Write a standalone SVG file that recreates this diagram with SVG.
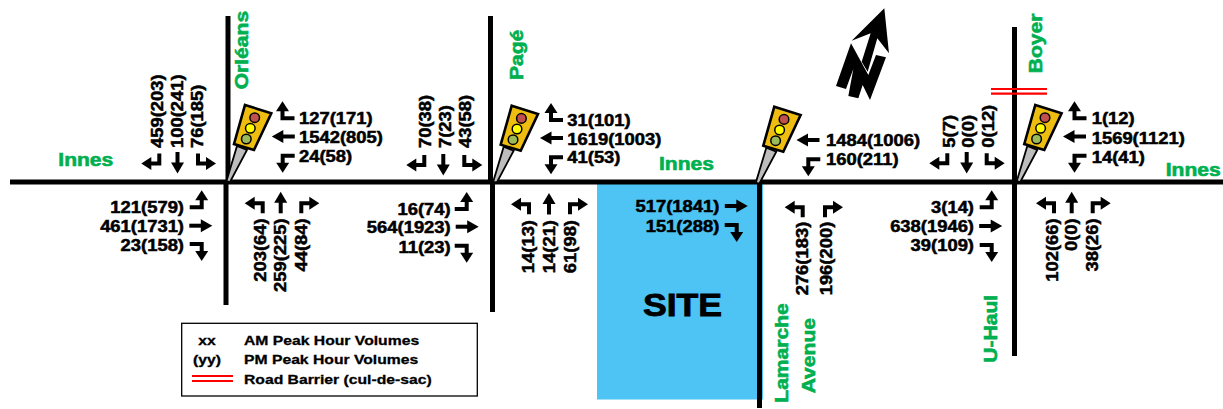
<svg xmlns="http://www.w3.org/2000/svg" xmlns:xlink="http://www.w3.org/1999/xlink" width="1223" height="409" viewBox="0 0 1223 409">
<style>
text{font-family:"Liberation Sans",Arial,sans-serif;font-weight:700}
.n{font-size:16px;fill:#000;stroke:#000;stroke-width:.5}
.g{font-size:18px;fill:#00b050;stroke:#00b050;stroke-width:.6}
.l{font-size:13px;fill:#000;stroke:#000;stroke-width:.3}
.e{text-anchor:end}
.m{text-anchor:middle}
.road{stroke:#000;stroke-width:5;fill:none}
.st{fill:none;stroke:#000;stroke-width:4}
.bar{stroke:#f00;stroke-width:2.200;fill:none}
</style>
<defs>
<g id="h-tl"><path class="st" d="M0-10V0H-9"/><path d="M-8-6.500V6.500L-18 0Z"/></g>
<g id="h-tr"><path class="st" d="M0-10V0H9"/><path d="M8-6.500V6.500L18 0Z"/></g>
<g id="h-bl"><path class="st" d="M0 10V0H-9"/><path d="M-8-6.500V6.500L-18 0Z"/></g>
<g id="h-br"><path class="st" d="M0 10V0H9"/><path d="M8-6.500V6.500L18 0Z"/></g>
<g id="h-ru"><path class="st" d="M12 0H0V-8"/><path d="M-6.500-7H6.500L0-17Z"/></g>
<g id="h-rd"><path class="st" d="M12 0H0V8"/><path d="M-6.500 7H6.500L0 17Z"/></g>
<g id="h-lu"><path class="st" d="M-12 0H0V-8"/><path d="M-6.500-7H6.500L0-17Z"/></g>
<g id="h-ld"><path class="st" d="M-12 0H0V8"/><path d="M-6.500 7H6.500L0 17Z"/></g>
<g id="t-u"><path class="st" d="M0 10.500V-1"/><path d="M-6.500 0H6.500L0-11Z"/></g>
<g id="t-d"><path class="st" d="M0-10.500V1"/><path d="M-6.500 0H6.500L0 11Z"/></g>
<g id="t-l"><path class="st" d="M11.500 0H-1"/><path d="M0-6.500V6.500L-11.500 0Z"/></g>
<g id="t-r"><path class="st" d="M-11.500 0H1"/><path d="M0-6.500V6.500L11.500 0Z"/></g>
<g id="signal">
<path d="M237 146L247 150L230 182L226.500 181Z" fill="#bdbdbd" stroke="#000" stroke-width="1.800"/>
<path d="M245 105L271.300 113.300L254 150L234 144Z" fill="#eebd0f" stroke="#000" stroke-width="2.600"/>
<circle cx="254.700" cy="117.700" r="4.800" fill="#c0504d" stroke="#000" stroke-width="1.500"/>
<circle cx="250.300" cy="128.300" r="4.800" fill="#ffff00" stroke="#000" stroke-width="1.500"/>
<circle cx="246.300" cy="139" r="4.800" fill="#9bbb59" stroke="#000" stroke-width="1.500"/>
</g>
</defs>
<rect width="1223" height="409" fill="#fff"/>
<g id="site">
<rect x="597" y="184" width="166" height="215.500" fill="#4dc4f4"/>
<text class="m" transform="translate(682.500 315.700) scale(1.15 1)" style="font-size:31px;stroke:#000;stroke-width:.8">SITE</text>
<text class="n e" transform="translate(719.300 212.300) scale(1.15 1)">517(1841)</text>
<text class="n e" transform="translate(719.300 232.300) scale(1.15 1)">151(288)</text>
<use href="#t-r" x="736.300" y="206"/>
<use href="#h-ld" x="736.700" y="225"/>
</g>
<g id="connectors">
<path class="road" d="M10 182H1223"/>
<path class="road" d="M228 16V182M226 182V305"/>
<path class="road" d="M490.500 16V182M492.500 182V312"/>
<path class="road" d="M759.500 182V408"/>
<path class="road" d="M1014.500 27V356"/>
<path class="bar" d="M991 89H1047M991 93.700H1047"/>
</g>
<g id="north-arrow" transform="translate(790 0) scale(.3333)">
<path d="M183 130L138 258L168 267L190 207L175 288L205 295L218 255L240 300L288 172L258 165L235 225Z"/>
<path d="M283 25L185 122L242 100L215 185L233 215L262 115L297 160Z"/>
</g>
<g id="intersection-orleans">
<use href="#signal"/>
<text class="g" transform="translate(247.700 89.300) rotate(-90) scale(1.17 1)">Orléans</text>
<use href="#h-tl" x="159.300" y="163.500"/><use href="#t-d" x="177.500" y="162.500"/><use href="#h-tr" x="198" y="163.500"/>
<text class="n" transform="translate(163 148) rotate(-90) scale(1.15 1)">459(203)</text>
<text class="n" transform="translate(183 148) rotate(-90) scale(1.15 1)">100(241)</text>
<text class="n" transform="translate(203 148) rotate(-90) scale(1.15 1)">76(185)</text>
<use href="#h-ru" x="282.500" y="118.300"/><use href="#t-l" x="283.300" y="136.500"/><use href="#h-rd" x="282.700" y="155.700"/>
<text class="n" transform="translate(299 124) scale(1.15 1)">127(171)</text>
<text class="n" transform="translate(299 143) scale(1.15 1)">1542(805)</text>
<text class="n" transform="translate(299 162) scale(1.15 1)">24(58)</text>
<use href="#h-lu" x="201.700" y="207.300"/><use href="#t-r" x="200.800" y="225.700"/><use href="#h-ld" x="201.700" y="244"/>
<text class="n e" transform="translate(184 213) scale(1.15 1)">121(579)</text>
<text class="n e" transform="translate(184 232) scale(1.15 1)">461(1731)</text>
<text class="n e" transform="translate(184 251) scale(1.15 1)">23(158)</text>
<use href="#h-bl" x="262.700" y="203.300"/><use href="#t-u" x="280.700" y="202.800"/><use href="#h-br" x="301.300" y="203.300"/>
<text class="n e" transform="translate(265.700 218.300) rotate(-90) scale(1.15 1)">203(64)</text>
<text class="n e" transform="translate(285.700 218.300) rotate(-90) scale(1.15 1)">259(225)</text>
<text class="n e" transform="translate(306.700 218.300) rotate(-90) scale(1.15 1)">44(84)</text>
</g>
<g id="intersection-page">
<use href="#signal" x="266.700" y=".7"/>
<text class="g" transform="translate(523.300 80) rotate(-90) scale(1.17 1)">Pagé</text>
<use href="#h-tl" x="424.300" y="165"/><use href="#t-d" x="443.300" y="164.500"/><use href="#h-tr" x="464.300" y="165"/>
<text class="n" transform="translate(431 148) rotate(-90) scale(1.15 1)">70(38)</text>
<text class="n" transform="translate(451 148) rotate(-90) scale(1.15 1)">7(23)</text>
<text class="n" transform="translate(471 148) rotate(-90) scale(1.15 1)">43(58)</text>
<use href="#h-ru" x="551" y="120"/><use href="#t-l" x="551.500" y="138"/><use href="#h-rd" x="551" y="157.300"/>
<text class="n" transform="translate(567.300 126) scale(1.15 1)">31(101)</text>
<text class="n" transform="translate(567.300 144.700) scale(1.15 1)">1619(1003)</text>
<text class="n" transform="translate(567.300 163.300) scale(1.15 1)">41(53)</text>
<text class="g" transform="translate(659 170) scale(1.17 1)">Innes</text>
<use href="#h-lu" x="466.700" y="209"/><use href="#t-r" x="467.200" y="226.700"/><use href="#h-ld" x="466.700" y="245.700"/>
<text class="n e" transform="translate(450.700 215) scale(1.15 1)">16(74)</text>
<text class="n e" transform="translate(450.700 233.300) scale(1.15 1)">564(1923)</text>
<text class="n e" transform="translate(450.700 253.300) scale(1.15 1)">11(23)</text>
<use href="#h-bl" x="529" y="204.300"/><use href="#t-u" x="549" y="204"/><use href="#h-br" x="570" y="204.300"/>
<text class="n e" transform="translate(534.300 220) rotate(-90) scale(1.15 1)">14(13)</text>
<text class="n e" transform="translate(555 220) rotate(-90) scale(1.15 1)">14(21)</text>
<text class="n e" transform="translate(576 220) rotate(-90) scale(1.15 1)">61(98)</text>
</g>
<g id="intersection-lamarche">
<use href="#signal" x="529.300" y="1.700"/>
<use href="#t-l" x="808" y="140"/><use href="#h-rd" x="808.300" y="159.300"/>
<text class="n" transform="translate(826 145.700) scale(1.15 1)">1484(1006)</text>
<text class="n" transform="translate(826 165) scale(1.15 1)">160(211)</text>
<use href="#h-bl" x="802.700" y="207.300"/><use href="#h-br" x="825" y="207.300"/>
<text class="n e" transform="translate(808.300 221.700) rotate(-90) scale(1.15 1)">276(183)</text>
<text class="n e" transform="translate(831.700 221.700) rotate(-90) scale(1.15 1)">196(200)</text>
<text class="g" transform="translate(787.700 402.700) rotate(-90) scale(1.17 1)">Lamarche</text>
<text class="g" transform="translate(815 393.300) rotate(-90) scale(1.17 1)">Avenue</text>
</g>
<g id="intersection-boyer">
<use href="#signal" x="790.300"/>
<text class="g" transform="translate(1041.700 73.300) rotate(-90) scale(1.17 1)">Boyer</text>
<use href="#h-tl" x="947.300" y="163.300"/><use href="#t-d" x="966.700" y="162.500"/><use href="#h-tr" x="986.700" y="163.300"/>
<text class="n" transform="translate(955 147.700) rotate(-90) scale(1.15 1)">5(7)</text>
<text class="n" transform="translate(974.300 147.700) rotate(-90) scale(1.15 1)">0(0)</text>
<text class="n" transform="translate(994.300 147.700) rotate(-90) scale(1.15 1)">0(12)</text>
<use href="#h-ru" x="1074.500" y="118.300"/><use href="#t-l" x="1074.500" y="136.500"/><use href="#h-rd" x="1074.500" y="155.700"/>
<text class="n" transform="translate(1091.700 124) scale(1.15 1)">1(12)</text>
<text class="n" transform="translate(1091.700 143.500) scale(1.15 1)">1569(1121)</text>
<text class="n" transform="translate(1091.700 162.500) scale(1.15 1)">14(41)</text>
<text class="g" transform="translate(1165.700 175.700) scale(1.17 1)">Innes</text>
<use href="#h-lu" x="991.700" y="207.300"/><use href="#t-r" x="990.700" y="226"/><use href="#h-ld" x="991.700" y="245"/>
<text class="n e" transform="translate(974 212.700) scale(1.15 1)">3(14)</text>
<text class="n e" transform="translate(974 231.700) scale(1.15 1)">638(1946)</text>
<text class="n e" transform="translate(974 251) scale(1.15 1)">39(109)</text>
<use href="#h-bl" x="1054" y="203.300"/><use href="#t-u" x="1071.700" y="202.800"/><use href="#h-br" x="1092.700" y="203.300"/>
<text class="n e" transform="translate(1057.700 218.300) rotate(-90) scale(1.15 1)">102(66)</text>
<text class="n e" transform="translate(1077.300 218.300) rotate(-90) scale(1.15 1)">0(0)</text>
<text class="n e" transform="translate(1098.300 218.300) rotate(-90) scale(1.15 1)">38(26)</text>
<text class="g" transform="translate(996.700 362.700) rotate(-90) scale(1.17 1)">U-Haul</text>
</g>
<g id="innes-west">
<text class="g" transform="translate(58.300 166) scale(1.17 1)">Innes</text>
</g>
<g id="legend">
<rect x="181.700" y="323.300" width="295.600" height="72.700" fill="#fff" stroke="#000" stroke-width="1.300"/>
<text class="l m" transform="translate(207 345) scale(1.21 1)">xx</text>
<text class="l m" transform="translate(207 364) scale(1.21 1)">(yy)</text>
<text class="l" transform="translate(244 345) scale(1.21 1)">AM Peak Hour Volumes</text>
<text class="l" transform="translate(244 364) scale(1.21 1)">PM Peak Hour Volumes</text>
<text class="l" transform="translate(244 384) scale(1.21 1)">Road Barrier (cul-de-sac)</text>
<path class="bar" d="M192 376H233M192 381H233"/>
</g>
</svg>
